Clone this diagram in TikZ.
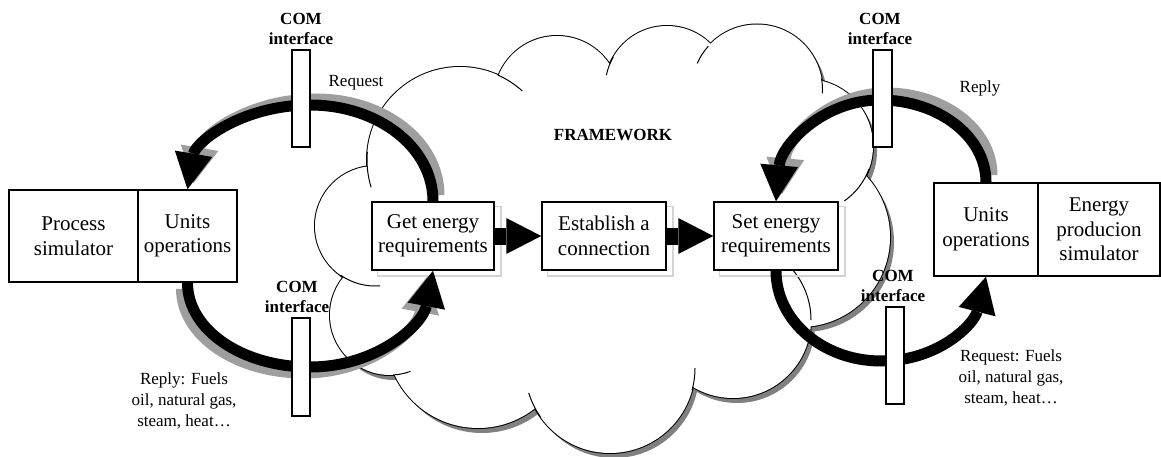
\documentclass[tikz,border=0pt]{standalone}
\usepackage{fontspec}
\setmainfont{Liberation Serif}
\usetikzlibrary{arrows.meta}
\definecolor{cloudshadow}{gray}{0.5}
\definecolor{boxshadow}{gray}{0.83}
\definecolor{arcshadow}{gray}{0.62}
\pgfdeclarelayer{cloudlayer}
\pgfdeclarelayer{shadelayer}
\pgfsetlayers{cloudlayer,shadelayer,main}
\newcommand\cloudcircles{%
  (460,160) circle[radius=93]
  (557,99) circle[radius=63]
  (667,88) circle[radius=62]
  (757,90) circle[radius=65.5]
  (806,146) circle[radius=67]
  (800,237) circle[radius=90]
  (733,320) circle[radius=78]
  (610,368) circle[radius=85]
  (478,336) circle[radius=92]
  (390,315) circle[radius=60]
  (375,226) circle[radius=60]}
\newcommand\cloudcore{%
  (460,160) -- (557,99) -- (667,88) -- (757,90) -- (806,146) -- (800,237)
  -- (733,320) -- (610,368) -- (478,336) -- (390,315) -- (375,226) -- cycle}
\begin{document}
\begin{tikzpicture}[x=1pt,y=-1pt,
  txt/.style={font=\fontsize{21}{24.5}\selectfont, align=center},
  lbl/.style={font=\fontsize{17}{21}\selectfont, align=center, inner sep=0pt},
  comlbl/.style={font=\bfseries\fontsize{17}{20}\selectfont, align=center, inner sep=0pt},
  procbox/.style={draw, line width=1.5pt, fill=white, txt, inner sep=0pt},
  comrect/.style={draw, line width=1.5pt, fill=white, inner sep=0pt, minimum width=18pt},
  flowarrow/.style={line width=17pt, -{Triangle[width=36pt,length=35pt,line width=0pt]}},
  bigarc/.style={line width=11pt, -{Triangle[width=38pt,length=36pt,line width=0pt]}},
  boxshade/.style={draw=boxshadow, line width=1.5pt},
  tail/.style={line width=1pt}
]
\useasboundingbox (0,0) rectangle (1161,457);

% ---------- cloud ----------
\begin{pgfonlayer}{cloudlayer}
\fill[white] (0,0) rectangle (1161,457);
\fill[cloudshadow, shift={(4,5)}] \cloudcircles;
\fill[cloudshadow, shift={(4,5)}] \cloudcore;
\draw[line width=2pt] \cloudcircles;
\fill[white] \cloudcircles;
\fill[white] \cloudcore;
\draw[tail] (460,160) ++(163:93) arc[start angle=163, end angle=185, radius=93];
\draw[tail] (460,160) ++(-66:93) arc[start angle=-66, end angle=-48, radius=93];
\draw[tail] (667,88) ++(-168:62) arc[start angle=-168, end angle=-150, radius=62];
\draw[tail] (757,90) ++(-156:65.5) arc[start angle=-156, end angle=-138, radius=65.5];
\draw[tail] (757,90) ++(-10:65.5) arc[start angle=-10, end angle=3, radius=65.5];
\draw[tail] (806,146) ++(20:67) arc[start angle=20, end angle=55, radius=67];
\draw[tail] (733,320) ++(-48:78) arc[start angle=-48, end angle=0, radius=78];
\draw[tail] (610,368) ++(0:85) arc[start angle=0, end angle=15, radius=85];
\draw[tail] (610,368) ++(145:85) arc[start angle=145, end angle=163, radius=85];
\draw[tail] (390,315) ++(70:60) arc[start angle=70, end angle=87, radius=60];
\draw[tail] (375,226) ++(85:60) arc[start angle=85, end angle=125, radius=60];
\node[comlbl] (fw) at (613,135) {FRAMEWORK};
\end{pgfonlayer}

% ---------- boxes ----------
\node[procbox, minimum width=129pt, minimum height=92pt] (ps) at (73.5,236) {Process\\simulator};
\node[procbox, minimum width=99pt, minimum height=92pt] (uo) at (187.5,236) {Units\\operations};
\node[procbox, minimum width=122pt, minimum height=68pt] (get) at (433,236) {Get energy\\requirements};
\node[procbox, minimum width=124pt, minimum height=68pt] (est) at (604,236) {Establish a\\connection};
\node[procbox, minimum width=124pt, minimum height=68pt] (set) at (776,236) {Set energy\\requirements};
\node[procbox, minimum width=104pt, minimum height=93pt] (uo2) at (986,229.5) {Units\\operations};
\node[procbox, minimum width=122pt, minimum height=93pt] (eps) at (1099,229.5) {Energy\\producion\\simulator};

\coordinate (tlpeak) at (310,105);
\coordinate (blbot) at (310,367);
\coordinate (trpeak) at (880,100);
\coordinate (brbot) at (881,361);

\begin{pgfonlayer}{shadelayer}
\foreach \n in {get,est,set}
  \draw[boxshade] ([shift={(6,5)}]\n.south west) rectangle ([shift={(6,5)}]\n.north east);
\draw[bigarc, arcshadow] ([shift={(6,-6)}]get.north) .. controls +(0,-54) and +(68,0) .. ([shift={(6,-6)}]tlpeak)
  .. controls +(-68,0) and +(8,-47) .. ([shift={(6,-6)}]uo.north);
\draw[bigarc, arcshadow] ([shift={(-6,6)}]uo.south) .. controls +(0,47) and +(-68,0) .. ([shift={(-6,6)}]blbot)
  .. controls +(68,0) and +(-10,53) .. ([shift={(-6,6)}]get.south);
\draw[bigarc, arcshadow] ([shift={(6,-7)}]uo2.north) .. controls +(0,-46) and +(58,0) .. ([shift={(6,-7)}]trpeak)
  .. controls +(-57,0) and +(5,-56) .. ([shift={(6,-7)}]set.north);
\end{pgfonlayer}

% ---------- connectors ----------
\draw[flowarrow] (get.east) -- (est.west);
\draw[flowarrow] (est.east) -- (set.west);

\draw[bigarc] (get.north) .. controls +(0,-54) and +(68,0) .. (tlpeak)
  .. controls +(-68,0) and +(8,-47) .. (uo.north);
\draw[bigarc] (uo.south) .. controls +(0,47) and +(-68,0) .. (blbot)
  .. controls +(68,0) and +(-10,53) .. (get.south);
\draw[bigarc] (uo2.north) .. controls +(0,-46) and +(58,0) .. (trpeak)
  .. controls +(-57,0) and +(5,-56) .. (set.north);
\draw[bigarc] (set.south) .. controls +(0,50) and +(-58,0) .. (brbot)
  .. controls +(58,0) and +(-12,47) .. (uo2.south);

% ---------- COM interfaces ----------
\node[comrect, minimum height=97pt] (com1) at (301,98.5) {};
\node[comrect, minimum height=98pt] (com2) at (301,367) {};
\node[comrect, minimum height=97pt, minimum width=19pt] (com3) at (882.5,98.5) {};
\node[comrect, minimum height=97pt] (com4) at (895,355.5) {};
\node[comlbl, anchor=south] (cl1) at ([yshift=4pt]com1.north) {COM\\interface};
\node[comlbl, anchor=south] (cl2) at ([shift={(-4,0)},yshift=4pt]com2.north) {COM\\interface};
\node[comlbl, anchor=south] (cl3) at ([shift={(-2.5,0)},yshift=4pt]com3.north) {COM\\interface};
\node[comlbl, anchor=south] (cl4) at ([shift={(-2,0)},yshift=4pt]com4.north) {COM\\interface};

% ---------- labels ----------
\node[lbl] (req1) at (356,83) {Request};
\node[lbl] (rep1) at (980,88) {Reply};
\node[lbl, anchor=north] (rep2) at (184,373) {Reply: Fuels\\oil, natural gas,\\steam, heat…};
\node[lbl, anchor=north] (req2) at (1011,350) {Request: Fuels\\oil, natural gas,\\steam, heat…};
\end{tikzpicture}
\end{document}
